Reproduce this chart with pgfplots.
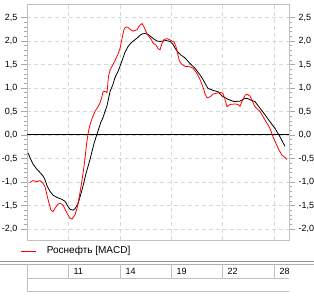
\documentclass[border=0pt]{standalone}
\usepackage{fontspec}
\setmainfont{Liberation Sans}
\usepackage{pgfplots}
\usepackage{pgfplotstable}
\pgfplotsset{compat=1.18}
\definecolor{framegray}{HTML}{C0C0C0}
\definecolor{gridgray}{HTML}{D8D8D8}
\definecolor{tickgray}{HTML}{A8A8A8}
\definecolor{sepdark}{HTML}{909090}
\definecolor{seplight}{HTML}{B0B0B0}

\pgfplotstableread{
x y
28 -0.38
30 -0.48
33 -0.62
37 -0.73
40 -0.80
43 -0.87
45 -0.95
47 -1.08
50 -1.20
53 -1.28
57 -1.33
62 -1.37
65 -1.41
68 -1.52
70 -1.58
73 -1.60
75 -1.57
78 -1.46
80 -1.32
82 -1.17
84 -1.00
86 -0.82
88 -0.67
90 -0.52
92 -0.35
94 -0.18
96.7 0.00
99 0.15
101 0.28
103 0.37
105 0.50
107 0.62
110 0.92
113 1.08
115 1.22
118 1.35
120 1.46
122 1.58
125 1.76
128 1.88
131 1.96
134 2.01
137 2.06
140 2.12
142 2.15
145 2.16
148 2.14
151 2.09
154 2.04
157 2.00
160 1.99
163 2.00
166 2.01
170 1.99
173 1.93
175 1.85
178 1.76
181 1.70
185 1.64
190 1.52
195 1.42
200 1.28
203 1.18
205 1.10
208 0.99
213 0.95
218 0.92
222 0.83
228 0.76
234 0.71
240 0.72
244 0.77
247 0.78
250 0.75
255 0.71
260 0.57
265 0.43
270 0.28
275 0.14
280 -0.04
283 -0.16
285 -0.24
}\signal

\pgfplotstableread{
x y
30 -1.01
33 -0.97
37 -0.99
40 -0.97
43 -1.03
45 -1.10
47 -1.28
49 -1.45
51 -1.60
53 -1.63
55 -1.56
58 -1.47
60 -1.45
63 -1.49
66 -1.62
68 -1.70
70 -1.77
72 -1.79
75 -1.70
77 -1.56
79 -1.35
81 -1.10
83 -0.82
85 -0.50
86.5 -0.20
88 0.02
89.5 0.18
92 0.35
95 0.50
98 0.60
100 0.68
102 0.82
103 0.92
105 0.93
107 0.90
108.5 1.25
110 1.38
113 1.50
115 1.58
118 1.72
120 1.84
122 2.05
124 2.25
126 2.30
128 2.29
130 2.25
133 2.21
137 2.24
140 2.34
142 2.37
144 2.30
146 2.20
148 2.12
151 2.04
153 1.96
156 1.91
158 1.84
160 1.81
162 1.95
164 2.03
167 2.05
170 2.02
174 1.98
176 1.88
178 1.70
179 1.60
181 1.52
185 1.46
190 1.45
193 1.42
197 1.31
200 1.18
203 1.02
205 0.88
207 0.79
210 0.81
213 0.87
217 0.89
220 0.91
223 0.88
225 0.76
227 0.60
230 0.65
235 0.66
238 0.65
240 0.61
242 0.72
245 0.84
247 0.87
250 0.83
253 0.69
255 0.60
258 0.54
260 0.50
265 0.32
270 0.14
273 -0.04
276 -0.18
279 -0.32
282 -0.43
285 -0.48
287 -0.52
}\macd

\pgfplotsset{
  common/.style={
    at={(27pt,56pt)}, anchor=south west,
    scale only axis, width=262pt, height=236pt,
    xmin=27, xmax=289, ymin=-2.234, ymax=2.787,
    ytick={-2,-1.5,-1,-0.5,0,0.5,1,1.5,2,2.5},
    yticklabels={{-2,0},{-1,5},{-1,0},{-0,5},{0,0},{0,5},{1,0},{1,5},{2,0},{2,5}},
    minor y tick num=4,
    tick align=outside,
    major tick length=6pt, minor tick length=3pt,
    tick label style={font=\fontsize{9}{10}\selectfont},
  }
}

\begin{document}
\begin{tikzpicture}
\useasboundingbox (0pt,0pt) rectangle (314pt,296pt);
\begin{axis}[common,
  axis line style={framegray},
  every tick/.style={tickgray},
  ytick pos=both, yticklabel pos=left,
  xtick={68,120,171,222,274},
  xticklabels={11,14,19,22,28},
  major x tick style={draw=none},
  xticklabel style={anchor=west, xshift=2pt, yshift=-25pt},
  xmajorgrids, ymajorgrids,
  grid style={gridgray, line width=0.8pt, dash pattern=on 4pt off 3pt},
  legend style={at={(axis description cs:-0.0229,-0.0466)}, anchor=west,
    draw=none, fill=none, inner sep=0pt, outer sep=0pt,
    nodes={inner sep=0pt, font=\fontsize{10}{11}\selectfont},
    /tikz/every odd column/.append style={column sep=10pt}},
  legend image code/.code={\draw[red, line width=0.9pt] (0pt,0pt) -- (15pt,0pt);},
]
\addplot[black, line width=1pt, forget plot] coordinates {(27,0) (289,0)};
\addplot[black, line width=0.8pt, forget plot] table[x=x,y=y] {\signal};
\addplot[red, line width=0.8pt] table[x=x,y=y] {\macd};
\addlegendentry{Роснефть [MACD]}
\end{axis}
\begin{axis}[common,
  hide x axis,
  axis y line*=right,
  y axis line style={draw=none},
  every tick/.style={draw=none},
]
\end{axis}
% bottom separator and date table
\draw[sepdark, line width=0.8pt] (0pt,34.5pt) -- (314pt,34.5pt);
\draw[seplight, line width=0.8pt] (0pt,32pt) -- (314pt,32pt);
\begin{scope}[framegray, line width=0.8pt]
\draw (27pt,17.7pt) -- (289pt,17.7pt);
\draw (27pt,5pt) -- (289pt,5pt);
\draw (27pt,32pt) -- (27pt,5pt);
\foreach \xx in {68,120,171,222,274} \draw (\xx pt,32pt) -- (\xx pt,17.7pt);
\end{scope}
\end{tikzpicture}
\end{document}
